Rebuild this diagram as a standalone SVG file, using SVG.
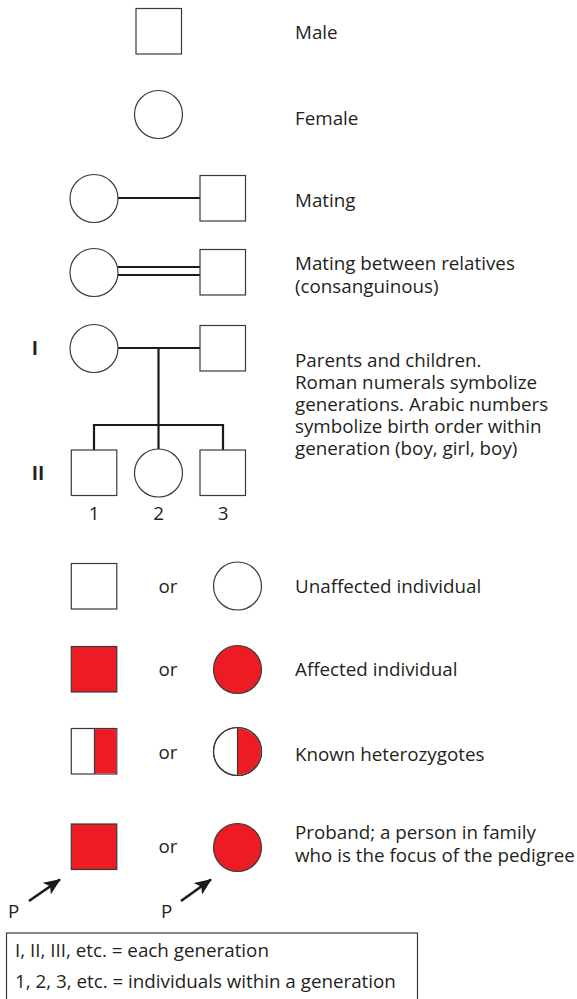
<svg xmlns="http://www.w3.org/2000/svg" width="577" height="999" viewBox="0 0 577 999">
  <style>
    .sym { fill: #ffffff; stroke: #3a3a3a; stroke-width: 1.2; }
    .aff { fill: #ed1c24; stroke: #3a3a3a; stroke-width: 1.2; }
    .half { fill: #ed1c24; stroke: none; }
    .link { fill: none; stroke: #1a1a1a; stroke-width: 2.2; }
    .lbl { font-family: "Open Sans", "Noto Sans", sans-serif; font-size: 18.8px; fill: #231f20; }
    .gen { font-family: "Open Sans", "Noto Sans", sans-serif; font-size: 19px; font-weight: bold; fill: #231f20; }
    .arrow { stroke: #1a1a1a; stroke-width: 2.6; fill: none; }
  </style>
  <defs>
    <marker id="head" viewBox="0 0 17 14" refX="16" refY="7" markerWidth="17" markerHeight="14" orient="auto" markerUnits="userSpaceOnUse">
      <path d="M0,0 L17,7 L0,14 L4,7 z" fill="#1a1a1a"/>
    </marker>
  </defs>

  <rect width="577" height="999" fill="#ffffff"/>

  <!-- connectors -->
  <g id="connectors">
    <line class="link" x1="118" y1="198" x2="200" y2="198"/>
    <line class="link" x1="118" y1="267" x2="200" y2="267"/>
    <line class="link" x1="118" y1="275" x2="200" y2="275"/>
    <line class="link" x1="118" y1="348" x2="200" y2="348"/>
    <line class="link" x1="158.5" y1="348" x2="158.5" y2="449"/>
    <polyline class="link" points="94,450 94,425 223,425 223,450"/>
    <line class="arrow" x1="29" y1="901" x2="60" y2="879.5" marker-end="url(#head)"/>
    <line class="arrow" x1="181" y1="901" x2="211" y2="879.5" marker-end="url(#head)"/>
  </g>

  <!-- key symbols -->
  <g id="male"><rect class="sym" x="136" y="8.5" width="45.5" height="45.5"/></g>
  <g id="female"><circle class="sym" cx="158.5" cy="114.5" r="24"/></g>

  <g id="mating-female"><circle class="sym" cx="94" cy="198.5" r="24"/></g>
  <g id="mating-male"><rect class="sym" x="200" y="175.5" width="45.5" height="45.5"/></g>

  <g id="consang-female"><circle class="sym" cx="94" cy="272.5" r="24"/></g>
  <g id="consang-male"><rect class="sym" x="200" y="249.5" width="45.5" height="45.5"/></g>

  <g id="parent-female"><circle class="sym" cx="94" cy="348.5" r="24"/></g>
  <g id="parent-male"><rect class="sym" x="200" y="325.5" width="45.5" height="45.5"/></g>

  <g id="child-1"><rect class="sym" x="71.3" y="450" width="45.5" height="45.5"/></g>
  <g id="child-2"><circle class="sym" cx="158.5" cy="473" r="24"/></g>
  <g id="child-3"><rect class="sym" x="200" y="450" width="45.5" height="45.5"/></g>

  <g id="unaffected-male"><rect class="sym" x="71.3" y="563.5" width="45.5" height="45.5"/></g>
  <g id="unaffected-female"><circle class="sym" cx="237.5" cy="586" r="24"/></g>

  <g id="affected-male"><rect class="aff" x="71.3" y="646.5" width="45.5" height="45.5"/></g>
  <g id="affected-female"><circle class="aff" cx="237.5" cy="669.5" r="24"/></g>

  <g id="carrier-male">
    <rect class="sym" x="71.3" y="728.5" width="45.5" height="45.5"/>
    <rect class="half" x="94.5" y="729.1" width="21.7" height="44.3"/>
    <line x1="94.5" y1="728.5" x2="94.5" y2="774" stroke="#3a3a3a" stroke-width="1.2"/>
  </g>
  <g id="carrier-female">
    <circle class="sym" cx="237.5" cy="751.5" r="24"/>
    <path class="half" d="M237.5,728.1 A23.4,23.4 0 0 1 237.5,774.9 z"/>
    <circle cx="237.5" cy="751.5" r="24" fill="none" stroke="#3a3a3a" stroke-width="1.2"/>
    <line x1="237.5" y1="727.5" x2="237.5" y2="775.5" stroke="#3a3a3a" stroke-width="1.2"/>
  </g>

  <g id="proband-male"><rect class="aff" x="71.3" y="824" width="45.5" height="45.5"/></g>
  <g id="proband-female"><circle class="aff" cx="237.5" cy="847.5" r="24"/></g>

  <!-- generation numerals and birth order -->
  <text class="gen" x="35" y="354.5" text-anchor="middle">I</text>
  <text class="gen" x="38" y="479.5" text-anchor="middle">II</text>
  <text class="lbl" x="94" y="520" text-anchor="middle">1</text>
  <text class="lbl" x="158.5" y="520" text-anchor="middle">2</text>
  <text class="lbl" x="223" y="520" text-anchor="middle">3</text>

  <text class="lbl" x="168" y="593" text-anchor="middle">or</text>
  <text class="lbl" x="168" y="676" text-anchor="middle">or</text>
  <text class="lbl" x="168" y="759" text-anchor="middle">or</text>
  <text class="lbl" x="168" y="853" text-anchor="middle">or</text>

  <text class="lbl" x="8" y="918">P</text>
  <text class="lbl" x="161" y="918">P</text>

  <!-- descriptions -->
  <g class="lbl">
    <text x="295" y="38.5">Male</text>
    <text x="295" y="124.5">Female</text>
    <text x="295" y="207">Mating</text>
    <text x="295" y="270">Mating between relatives</text>
    <text x="295" y="292.5">(consanguinous)</text>
    <text x="295" y="367">Parents and children.</text>
    <text x="295" y="389">Roman numerals symbolize</text>
    <text x="295" y="411">generations. Arabic numbers</text>
    <text x="295" y="433">symbolize birth order within</text>
    <text x="295" y="455">generation (boy, girl, boy)</text>
    <text x="295" y="593">Unaffected individual</text>
    <text x="295" y="676">Affected individual</text>
    <text x="295" y="761">Known heterozygotes</text>
    <text x="295" y="838.5">Proband; a person in family</text>
    <text x="295" y="861.5">who is the focus of the pedigree</text>
  </g>

  <!-- legend box -->
  <g id="legend">
    <rect x="6.5" y="933" width="411" height="80" fill="none" stroke="#3a3a3a" stroke-width="1.2"/>
    <text class="lbl" x="15" y="957">I, II, III, etc. = each generation</text>
    <text class="lbl" x="15" y="988">1, 2, 3, etc. = individuals within a generation</text>
  </g>
</svg>
